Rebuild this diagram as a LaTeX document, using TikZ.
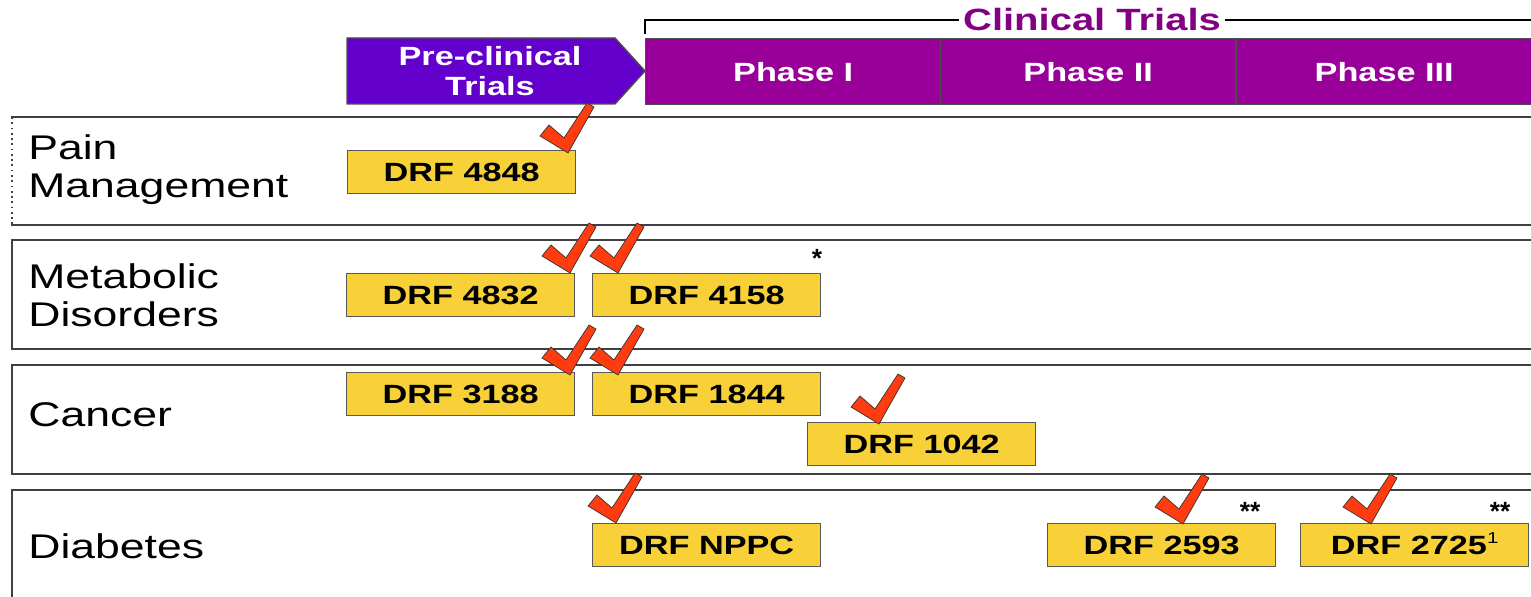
\documentclass[tikz,border=0pt]{standalone}
\usepackage{fontspec}
\setmainfont{Liberation Sans}
\newfontfamily\widesans[FakeStretch=1.3]{Liberation Sans}
\usetikzlibrary{calc,positioning}
\definecolor{previolet}{HTML}{6400CC}
\definecolor{phasepurple}{HTML}{990099}
\definecolor{drugyellow}{HTML}{F8D038}
\definecolor{tickred}{HTML}{FF3C10}

\begin{document}
\begin{tikzpicture}[x=0.02cm, y=-0.02cm,
    rowbox/.style={draw=black!75, line width=1pt, fill=white},
    rowlabel/.style={anchor=west, align=left, inner sep=0pt, font=\widesans\fontsize{19.5}{21.5}\selectfont},
    drug/.style={draw=black!65, line width=0.8pt, fill=drugyellow, anchor=north west,
        minimum width=4.56cm, minimum height=0.86cm, inner sep=0pt,
        font=\widesans\bfseries\fontsize{15}{17}\selectfont},
    phase/.style={fill=phasepurple, draw=black!70, line width=0.8pt, anchor=north west,
        minimum width=5.9cm, minimum height=1.32cm, inner sep=0pt, text=white,
        font=\widesans\bfseries\fontsize{15}{17}\selectfont},
    starnote/.style={font=\bfseries\fontsize{15}{15}\selectfont, inner sep=0pt},
    tick/.pic={\filldraw[fill=tickred, draw=black!80, line width=0.4pt]
        (-25,-16) -- (-16,-27) -- (-1,-14) -- (22,-49) -- (29,-45) -- (3,1) -- cycle;}
]
    \useasboundingbox (0,0) rectangle (1531,597);
    \clip (0,0) rectangle (1531,597);

    % ---- Header ----
    \node[text=phasepurple!85!black, fill=white, inner xsep=2pt, font=\widesans\bfseries\fontsize{17.5}{19}\selectfont]
        (clin) at (1092,20) {Clinical Trials};
    \draw[line width=1.2pt] (645,34) |- (clin.west);
    \draw[line width=1.2pt] (clin.east) -- (1545,20);

    \filldraw[fill=previolet, draw=black!70, line width=0.8pt]
        (347,38) -- (615,38) -- (645,71) -- (615,104) -- (347,104) -- cycle;
    \node[text=white, align=center, font=\widesans\bfseries\fontsize{15}{17}\selectfont]
        (pre) at (490,71) {Pre-clinical\\Trials};

    \node[phase] (phaseI) at (645,38) {Phase I};
    \node[phase] (phaseII) at (940,38) {Phase II};
    \node[phase] (phaseIII) at (1236,38) {Phase III};

    % ---- Rows ----
    \draw[rowbox] (1545,117) -- (12,117) -- (12,225) -- (1545,225);
    \draw[white, line width=1.2pt] (12,119) -- (12,223);
    \draw[black!75, line width=1pt, dotted] (12,117) -- (12,225);
    \draw[rowbox] (1545,240) -- (12,240) -- (12,349) -- (1545,349);
    \draw[rowbox] (1545,365) -- (12,365) -- (12,474) -- (1545,474);
    \draw[rowbox] (1545,490) -- (12,490) -- (12,620);

    \node[rowlabel] (pain) at (28,170) {Pain\\Management};
    \node[rowlabel] (meta) at (28,295) {Metabolic\\Disorders};
    \node[rowlabel] (cancer) at (28,415) {Cancer};
    \node[rowlabel] (diab) at (28,546) {Diabetes};

    % ---- Compounds ----
    \node[drug] (d4848) at (347,150) {DRF 4848};
    \node[drug] (d4832) at (346,273) {DRF 4832};
    \node[drug] (d4158) at (592,273) {DRF 4158};
    \node[drug] (d3188) at (346,372) {DRF 3188};
    \node[drug] (d1844) at (592,372) {DRF 1844};
    \node[drug] (d1042) at (807,422) {DRF 1042};
    \node[drug] (dnppc) at (592,523) {DRF NPPC};
    \node[drug] (d2593) at (1047,523) {DRF 2593};
    \node[drug] (d2725) at (1300,523) {DRF 2725\smash{\raisebox{6pt}{\mdseries\fontsize{9}{9}\selectfont 1}}};

    \node[starnote] (s4158) at (817,258) {*};
    \node[starnote] (s2593) at (1250,511) {**};
    \node[starnote] (s2725) at (1500,511) {**};

    % ---- Checkmarks ----
    \pic at (565,152) {tick};
    \pic at (567,272) {tick};
    \pic at (615,272) {tick};
    \pic at (567,374) {tick};
    \pic at (615,374) {tick};
    \pic at (876,423) {tick};
    \pic at (613,522) {tick};
    \pic at (1180,523) {tick};
    \pic at (1368,523) {tick};
\end{tikzpicture}
\end{document}
